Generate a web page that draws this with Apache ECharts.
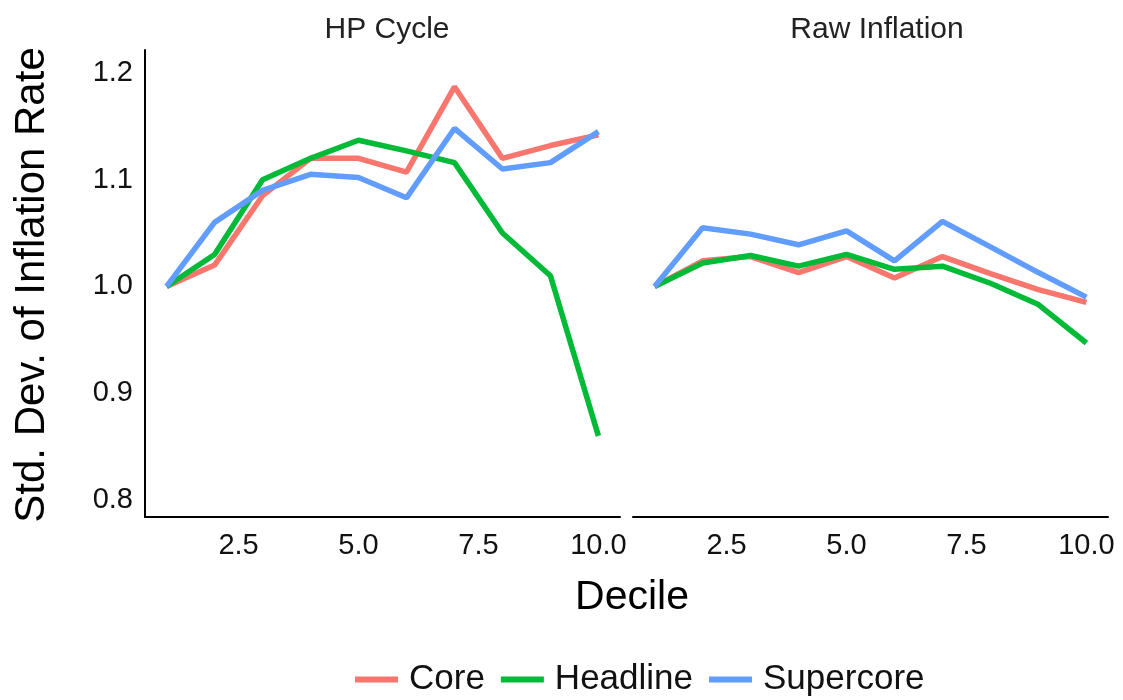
<!DOCTYPE html><html><head><meta charset="utf-8"><script src="https://cdn.jsdelivr.net/npm/echarts@6/dist/echarts.min.js"></script>
<style>body{margin:0}#c{width:1123px;height:700px}</style></head><body><div id="c"></div><script>
const deciles=[1,2,3,4,5,6,7,8,9,10];
const hpCore=[1.0,1.02,1.085,1.12,1.12,1.107,1.187,1.12,1.132,1.142];
const hpHeadline=[1.0,1.03,1.1,1.12,1.137,1.127,1.116,1.05,1.01,0.86];
const hpSuper=[1.0,1.06,1.09,1.105,1.102,1.083,1.148,1.11,1.116,1.145];
const rawCore=[1.0,1.024,1.028,1.013,1.028,1.008,1.028,1.012,0.997,0.985];
const rawHeadline=[1.0,1.022,1.029,1.019,1.03,1.016,1.019,1.003,0.983,0.947];
const rawSuper=[1.0,1.055,1.049,1.039,1.052,1.024,1.061,1.037,1.013,0.99];
const xTicks=[2.5,5.0,7.5,10.0];
const yTicks=[0.8,0.9,1.0,1.1,1.2];
const colors={Core:'#F8766D',Headline:'#00BA38',Supercore:'#619CFF'};
const F='Liberation Sans, Arial, sans-serif';
const z=(a,b)=>a.map((v,i)=>[b[i],v]);
function xa(i){return {type:'value',gridIndex:i,min:0.55,max:10.45,
 axisLine:{show:true,lineStyle:{color:'#000',width:2}},axisTick:{show:false},splitLine:{show:false},
 axisLabel:{customValues:xTicks,formatter:v=>v.toFixed(1),color:'#111',fontSize:29,fontFamily:F,margin:14}};}
function ya(i){return {type:'value',gridIndex:i,min:0.784,max:1.2215,
 axisLine:{show:i===0,lineStyle:{color:'#000',width:2}},axisTick:{show:false},splitLine:{show:false},
 axisLabel:{show:i===0,customValues:yTicks,formatter:v=>v.toFixed(1),color:'#111',fontSize:29,fontFamily:F,margin:12}};}
function s(name,data,i){return {name,type:'line',xAxisIndex:i,yAxisIndex:i,data:z(data,deciles),showSymbol:false,
 lineStyle:{width:5.5,color:colors[name]},itemStyle:{color:colors[name]}};}
const ch=echarts.init(document.getElementById('c'));
ch.setOption({animation:false,
 grid:[{left:145,width:475,top:50,height:467},{left:633,width:475,top:50,height:467}],
 xAxis:[xa(0),xa(1)],yAxis:[ya(0),ya(1)],
 title:[{text:'HP Cycle',left:382,top:10,textAlign:'center',textStyle:{fontSize:30,fontWeight:'normal',fontFamily:F,color:'#222'}},
 {text:'Raw Inflation',left:872,top:10,textAlign:'center',textStyle:{fontSize:30,fontWeight:'normal',fontFamily:F,color:'#222'}},
 {text:'Decile',left:627,top:572,textAlign:'center',textStyle:{fontSize:41,fontWeight:'normal',fontFamily:F,color:'#000'}}],
 graphic:[{type:'text',x:32,y:285,rotation:Math.PI/2,style:{text:'Std. Dev. of Inflation Rate',fontSize:42,fontFamily:F,fill:'#000',textAlign:'center',textVerticalAlign:'middle'}}],
 legend:{bottom:-2,left:350,itemWidth:43,itemHeight:6,itemGap:16,icon:'rect',textStyle:{fontSize:35,fontFamily:F,color:'#111',padding:[0,0,0,6]},data:['Core','Headline','Supercore']},
 series:[s('Core',hpCore,0),s('Headline',hpHeadline,0),s('Supercore',hpSuper,0),s('Core',rawCore,1),s('Headline',rawHeadline,1),s('Supercore',rawSuper,1)]
});
</script></body></html>
